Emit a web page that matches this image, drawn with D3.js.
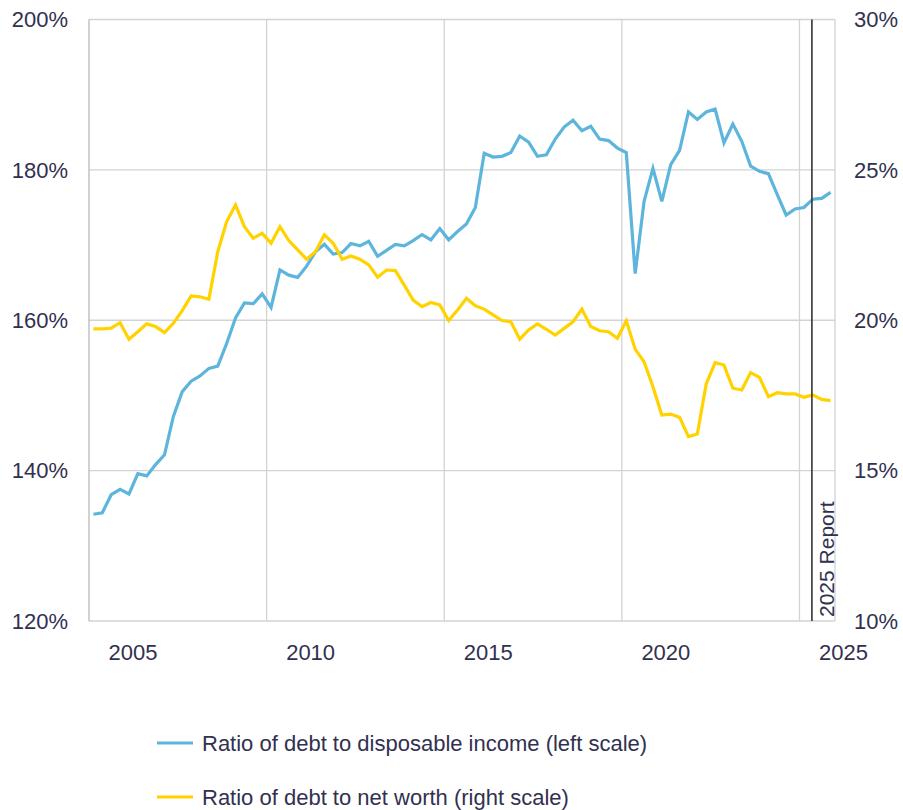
<!DOCTYPE html>
<html lang="en">
<head>
    <meta charset="UTF-8">
    <title>Household debt ratios</title>
    <script src="https://d3js.org/d3.v7.min.js"></script>
    <style>
        body {
            margin: 0;
            background: #ffffff;
        }
        svg {
            font-family: 'Liberation Sans', Arial, sans-serif;
        }
    </style>
</head>
<body>
    <div id="chart"></div>
    <script>
        // quarterly data, 2005Q1 onwards
        var startYear = 2005;
        var debtToIncome = [
            134.2, 134.4, 136.8, 137.5, 136.9, 139.6, 139.3, 140.8,
            142.1, 147.2, 150.5, 151.9, 152.6, 153.6, 153.9, 156.9,
            160.3, 162.3, 162.2, 163.5, 161.7, 166.7, 166.0, 165.7,
            167.2, 169.1, 170.1, 168.8, 169.0, 170.2, 169.9, 170.5,
            168.5, 169.3, 170.1, 169.9, 170.6, 171.4, 170.7, 172.2,
            170.7, 171.8, 172.8, 175.0, 182.2, 181.7, 181.8, 182.3,
            184.5, 183.7, 181.8, 182.0, 184.1, 185.7, 186.6, 185.2,
            185.8, 184.1, 183.9, 182.9, 182.3, 166.2, 175.8, 180.2,
            175.8, 180.7, 182.6, 187.7, 186.7, 187.7, 188.1, 183.6,
            186.1, 183.8, 180.5, 179.8, 179.5, 176.7, 174.0, 174.8,
            175.0, 176.1, 176.2, 177.0
        ];
        var debtToNetWorth = [
            19.71, 19.71, 19.74, 19.92, 19.37, 19.62, 19.88, 19.79,
            19.59, 19.90, 20.32, 20.81, 20.78, 20.70, 22.28, 23.28,
            23.83, 23.11, 22.73, 22.89, 22.56, 23.11, 22.65, 22.34,
            22.03, 22.28, 22.84, 22.56, 22.03, 22.14, 22.03, 21.84,
            21.43, 21.67, 21.65, 21.17, 20.67, 20.45, 20.59, 20.51,
            19.99, 20.34, 20.73, 20.48, 20.37, 20.18, 19.99, 19.95,
            19.37, 19.68, 19.88, 19.70, 19.51, 19.73, 19.95, 20.37,
            19.79, 19.65, 19.62, 19.40, 19.98, 19.04, 18.62, 17.79,
            16.85, 16.88, 16.77, 16.13, 16.22, 17.88, 18.59, 18.51,
            17.74, 17.68, 18.26, 18.10, 17.46, 17.59, 17.55, 17.55,
            17.44, 17.52, 17.37, 17.33
        ];
        var yearTicks = [2005, 2010, 2015, 2020, 2025];
        var leftTicks = [120, 140, 160, 180, 200];
        var rightTicks = [10, 15, 20, 25, 30];
        var reportDate = 2025.35;
        var reportLabel = '2025 Report';
        var seriesNames = [
            'Ratio of debt to disposable income (left scale)',
            'Ratio of debt to net worth (right scale)'
        ];

        var svgwidth = 903;
        var svgheight = 810;
        var plotLeft = 89, plotRight = 835, plotTop = 19.5, plotBottom = 621;
        var blue = '#5db5db';
        var yellow = '#ffd200';
        var textColor = '#31314f';
        var gridColor = '#d3d3d3';

        var quarters = debtToIncome.map((d, i) => startYear + i / 4 + 0.125);

        var svg = d3.select('#chart')
            .append('svg')
            .attr('width', svgwidth)
            .attr('height', svgheight);

        var x_scale = d3.scaleLinear()
            .domain([2005, 2026])
            .range([plotLeft, plotRight]);

        var y_left = d3.scaleLinear()
            .domain([120, 200])
            .range([plotBottom, plotTop]);

        var y_right = d3.scaleLinear()
            .domain([10, 30])
            .range([plotBottom, plotTop]);

        // gridlines
        svg.append('g')
            .selectAll('line')
            .data(leftTicks)
            .enter()
            .append('line')
            .attr('x1', plotLeft)
            .attr('x2', plotRight)
            .attr('y1', d => y_left(d))
            .attr('y2', d => y_left(d))
            .attr('stroke', gridColor)
            .attr('stroke-width', 1.3);

        svg.append('g')
            .selectAll('line')
            .data(yearTicks.concat([2026]))
            .enter()
            .append('line')
            .attr('x1', d => x_scale(d))
            .attr('x2', d => x_scale(d))
            .attr('y1', plotTop)
            .attr('y2', plotBottom)
            .attr('stroke', d => d === 2005 ? '#b8b8b8' : gridColor)
            .attr('stroke-width', 1.3);

        // axis labels
        svg.append('g')
            .selectAll('text')
            .data(leftTicks)
            .enter()
            .append('text')
            .attr('x', 68)
            .attr('y', d => y_left(d))
            .attr('dy', '0.35em')
            .attr('text-anchor', 'end')
            .attr('fill', textColor)
            .style('font-size', '22px')
            .text(d => d + '%');

        svg.append('g')
            .selectAll('text')
            .data(rightTicks)
            .enter()
            .append('text')
            .attr('x', 854)
            .attr('y', d => y_right(d))
            .attr('dy', '0.35em')
            .attr('text-anchor', 'start')
            .attr('fill', textColor)
            .style('font-size', '22px')
            .text(d => d + '%');

        svg.append('g')
            .selectAll('text')
            .data(yearTicks)
            .enter()
            .append('text')
            .attr('x', d => x_scale(d) + 44)
            .attr('y', 652)
            .attr('dy', '0.35em')
            .attr('text-anchor', 'middle')
            .attr('fill', textColor)
            .style('font-size', '22px')
            .text(d => d);

        // lines
        var lineLeft = d3.line()
            .x((d, i) => x_scale(quarters[i]))
            .y(d => y_left(d));

        var lineRight = d3.line()
            .x((d, i) => x_scale(quarters[i]))
            .y(d => y_right(d));

        svg.append('path')
            .datum(debtToIncome)
            .attr('d', lineLeft)
            .attr('fill', 'none')
            .attr('stroke', blue)
            .attr('stroke-width', 3.2);

        svg.append('path')
            .datum(debtToNetWorth)
            .attr('d', lineRight)
            .attr('fill', 'none')
            .attr('stroke', yellow)
            .attr('stroke-width', 3.2);

        // report marker
        svg.append('line')
            .attr('x1', x_scale(reportDate))
            .attr('x2', x_scale(reportDate))
            .attr('y1', plotTop)
            .attr('y2', plotBottom)
            .attr('stroke', '#333333')
            .attr('stroke-width', 1.6);

        svg.append('text')
            .attr('transform', `translate(${x_scale(reportDate) + 22}, ${plotBottom - 4}) rotate(-90)`)
            .attr('text-anchor', 'start')
            .attr('fill', textColor)
            .style('font-size', '21px')
            .text(reportLabel);

        // legend
        var legend = svg.append('g')
            .selectAll('g')
            .data(seriesNames)
            .enter()
            .append('g')
            .attr('transform', (d, i) => `translate(157, ${743 + i * 54})`);

        legend.append('line')
            .attr('x1', 0)
            .attr('x2', 36)
            .attr('stroke', (d, i) => i === 0 ? blue : yellow)
            .attr('stroke-width', 3.2);

        legend.append('text')
            .attr('x', 45)
            .attr('dy', '0.35em')
            .attr('fill', textColor)
            .style('font-size', '22px')
            .text(d => d);
    </script>
</body>
</html>
